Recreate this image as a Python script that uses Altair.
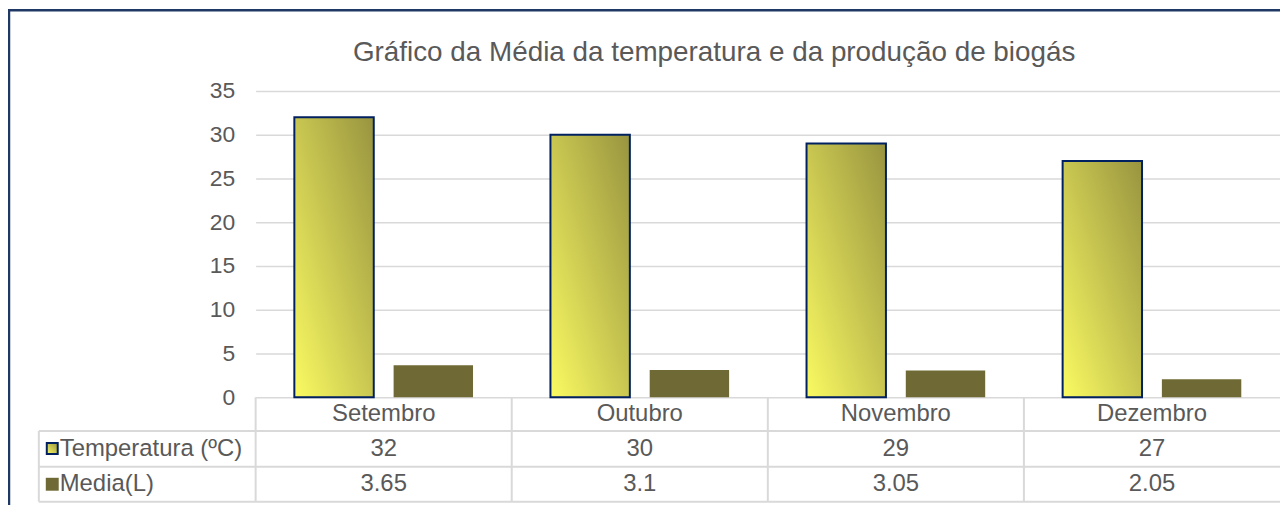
import altair as alt
import pandas as pd

# ---------------- data ----------------
categorias = ["Setembro", "Outubro", "Novembro", "Dezembro"]
temperatura = [32, 30, 29, 27]
media = [3.65, 3.1, 3.05, 2.05]
series = ["Temperatura (ºC)", "Media(L)"]
titulo = "Gráfico da Média da temperatura e da produção de biogás"
y_ticks = [0, 5, 10, 15, 20, 25, 30, 35]

rows = []
for i, c in enumerate(categorias):
    rows.append({"cat": c, "serie": series[0], "valor": temperatura[i], "label": f"{temperatura[i]:g}"})
    rows.append({"cat": c, "serie": series[1], "valor": media[i], "label": f"{media[i]:g}"})
df = pd.DataFrame(rows)
df_cat = pd.DataFrame({"cat": categorias})
df_ser = pd.DataFrame({"serie": series})
df_title = pd.DataFrame({"t": [titulo]})

# ---------------- style ----------------
FONT = "Liberation Sans"
TXT = "#595959"
GRID = "#D9D9D9"
NAVY = "#002060"
OLIVE = "#6F6A35"
FS_AX = 23
FS = 24

grad = alt.LinearGradient(
    gradient="linear",
    stops=[alt.GradientStop(offset=0, color="#FAFA62"),
           alt.GradientStop(offset=1, color="#989440")],
    x1=0, y1=1, x2=1, y2=0,
)

x_enc = alt.X("cat:N", sort=categorias,
              scale=alt.Scale(domain=categorias, paddingInner=0, paddingOuter=0),
              axis=None)
xo_enc = alt.XOffset("serie:N", sort=series,
                     scale=alt.Scale(domain=series, paddingInner=0.2, paddingOuter=0.39))
y_enc = alt.Y("valor:Q", scale=alt.Scale(domain=[0, 35], nice=False),
              axis=alt.Axis(values=y_ticks, title=None, domain=False, ticks=False,
                            labelPadding=21, labelFontSize=FS_AX, labelColor=TXT,
                            labelFont=FONT, gridColor=GRID, gridWidth=1.5))

base = alt.Chart(df)

bars_t = base.transform_filter(alt.datum.serie == series[0]).mark_bar(
    fill=grad, stroke=NAVY, strokeWidth=2
).encode(x=x_enc, xOffset=xo_enc, y=y_enc)

bars_m = base.transform_filter(alt.datum.serie == series[1]).mark_bar(
    fill=OLIVE
).encode(x=x_enc, xOffset=xo_enc, y=y_enc)

# table grid lines
def hline(y, x0, x1):
    return alt.Chart(df_title).mark_rule(color=GRID, strokeWidth=2).encode(
        x=alt.value(x0), x2=alt.value(x1), y=alt.value(y))

def vline(x, y0, y1):
    return alt.Chart(df_title).mark_rule(color=GRID, strokeWidth=2).encode(
        x=alt.value(x), y=alt.value(y0), y2=alt.value(y1))

h1 = hline(342, -218, 1040)
h2 = hline(378, -218, 1040)
h3 = hline(413, -218, 1040)
v_left = vline(-218, 342, 413)
v_bands = alt.Chart(df_cat).mark_rule(color=GRID, strokeWidth=2).encode(
    x=alt.X("cat:N", sort=categorias, bandPosition=0, axis=None),
    y=alt.value(308), y2=alt.value(413))

# header row (categories)
header = alt.Chart(df_cat).mark_text(
    font=FONT, fontSize=FS, color=TXT, baseline="middle"
).encode(x=x_enc, y=alt.value(325), text="cat:N")

row_t = base.transform_filter(alt.datum.serie == series[0]).mark_text(
    font=FONT, fontSize=FS, color=TXT, baseline="middle"
).encode(x=x_enc, y=alt.value(360), text="label:N")

row_m = base.transform_filter(alt.datum.serie == series[1]).mark_text(
    font=FONT, fontSize=FS, color=TXT, baseline="middle"
).encode(x=x_enc, y=alt.value(395), text="label:N")

# row labels with legend keys
lab_t = alt.Chart(df_ser).transform_filter(alt.datum.serie == series[0]).mark_text(
    font=FONT, fontSize=FS, color=TXT, baseline="middle", align="left"
).encode(x=alt.value(-197), y=alt.value(360), text="serie:N")
lab_m = alt.Chart(df_ser).transform_filter(alt.datum.serie == series[1]).mark_text(
    font=FONT, fontSize=FS, color=TXT, baseline="middle", align="left"
).encode(x=alt.value(-197), y=alt.value(395), text="serie:N")

key_t = alt.Chart(df_ser).transform_filter(alt.datum.serie == series[0]).mark_rect(
    fill=grad, stroke=NAVY, strokeWidth=2
).encode(x=alt.value(-210), x2=alt.value(-199), y=alt.value(354), y2=alt.value(365))
key_m = alt.Chart(df_ser).transform_filter(alt.datum.serie == series[1]).mark_rect(
    fill=OLIVE
).encode(x=alt.value(-211), x2=alt.value(-198), y=alt.value(389), y2=alt.value(402))

title = alt.Chart(df_title).mark_text(
    font=FONT, fontSize=28, color=TXT, baseline="middle", align="center"
).encode(x=alt.value(461), y=alt.value(-38), text="t:N")

border = alt.Chart(df_title).mark_rect(
    fillOpacity=0, stroke="#1F3864", strokeWidth=2.5
).encode(x=alt.value(-248), x2=alt.value(1100), y=alt.value(-81), y2=alt.value(500))

chart = alt.layer(
    h1, h2, h3, v_left, v_bands,
    bars_t, bars_m,
    header, row_t, row_m, lab_t, lab_m, key_t, key_m,
    title, border,
).properties(
    width=1030, height=308,
    padding={"left": 249, "top": 82, "right": 0, "bottom": 107},
    autosize=alt.AutoSizeParams(type="none"),
    background="white",
).configure_view(stroke=None)

chart.save("out.html", embed_options={"renderer": "svg", "actions": False})
